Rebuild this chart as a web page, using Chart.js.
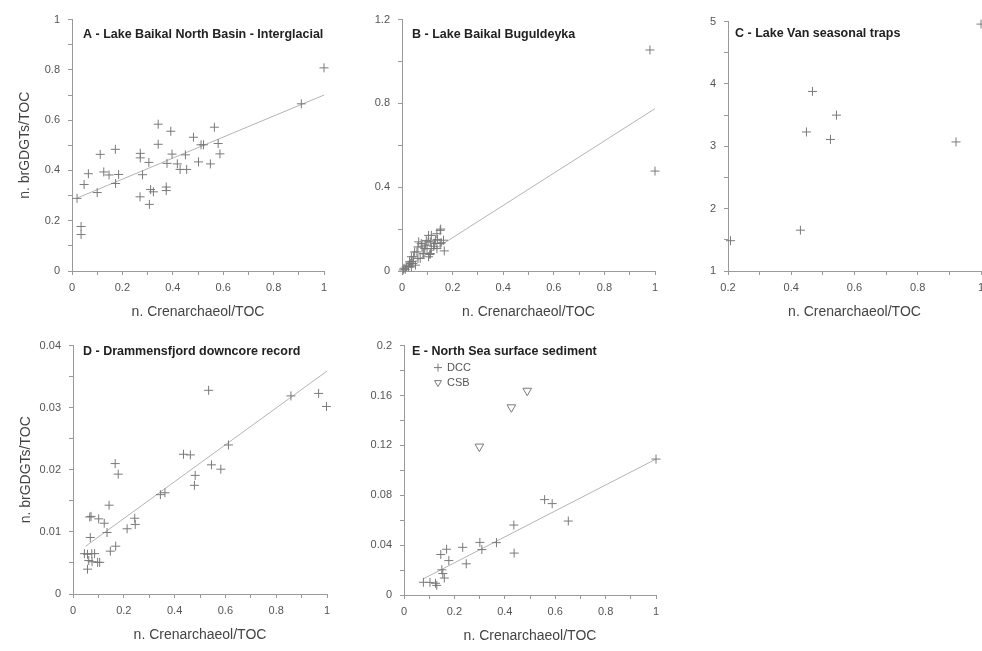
<!DOCTYPE html>
<html>
<head>
<meta charset="utf-8">
<script src="https://cdn.jsdelivr.net/npm/chart.js@4.4.1/dist/chart.umd.min.js"></script>
<style>
  html, body { margin: 0; padding: 0; background: #fff; overflow: hidden; }
  body { width: 982px; height: 651px; position: relative; }
  canvas { position: absolute; }
</style>
</head>
<body>
<canvas id="cA"></canvas>
<canvas id="cB"></canvas>
<canvas id="cC"></canvas>
<canvas id="cD"></canvas>
<canvas id="cE"></canvas>
<script>
// ---- data ----
const xTitle = 'n. Crenarchaeol/TOC';
const yTitle = 'n. brGDGTs/TOC';

// A - Lake Baikal North Basin - Interglacial
const aX = [0.02, 0.036, 0.036, 0.048, 0.065, 0.10, 0.112, 0.126, 0.147, 0.172, 0.173, 0.185, 0.271, 0.271, 0.27, 0.28, 0.305, 0.307, 0.312, 0.323, 0.342, 0.342, 0.374, 0.374, 0.377, 0.392, 0.397, 0.418, 0.429, 0.45, 0.455, 0.482, 0.502, 0.512, 0.522, 0.549, 0.565, 0.58, 0.587, 0.91, 1.0];
const aY = [0.289, 0.177, 0.145, 0.344, 0.387, 0.312, 0.464, 0.394, 0.382, 0.484, 0.348, 0.384, 0.468, 0.45, 0.295, 0.383, 0.432, 0.265, 0.324, 0.315, 0.584, 0.504, 0.334, 0.32, 0.428, 0.556, 0.465, 0.426, 0.404, 0.462, 0.404, 0.532, 0.434, 0.502, 0.502, 0.426, 0.572, 0.507, 0.466, 0.665, 0.808];
const fitA = [[0.02, 0.29], [1, 0.70]];

// B - Lake Baikal Buguldeyka
const bX = [0.005, 0.008, 0.013, 0.017, 0.024, 0.026, 0.03, 0.033, 0.037, 0.037, 0.04, 0.043, 0.046, 0.05, 0.053, 0.059, 0.063, 0.063, 0.066, 0.072, 0.076, 0.079, 0.083, 0.086, 0.09, 0.092, 0.096, 0.099, 0.103, 0.105, 0.105, 0.11, 0.112, 0.112, 0.116, 0.116, 0.125, 0.129, 0.132, 0.138, 0.138, 0.14, 0.151, 0.151, 0.153, 0.155, 0.164, 0.167, 0.98, 1.0];
const bY = [0.005, 0.013, 0.008, 0.02, 0.028, 0.02, 0.044, 0.036, 0.068, 0.02, 0.045, 0.036, 0.068, 0.091, 0.028, 0.091, 0.115, 0.06, 0.139, 0.06, 0.131, 0.115, 0.083, 0.083, 0.107, 0.123, 0.146, 0.107, 0.139, 0.17, 0.068, 0.079, 0.139, 0.083, 0.17, 0.107, 0.118, 0.131, 0.147, 0.178, 0.107, 0.151, 0.194, 0.131, 0.2, 0.135, 0.147, 0.096, 1.055, 0.477];
const fitB = [[0, 0.005], [1, 0.775]];

// C - Lake Van seasonal traps
const cX = [0.208, 0.429, 0.448, 0.467, 0.524, 0.543, 0.921, 1.0];
const cY = [1.486, 1.655, 3.23, 3.88, 3.11, 3.5, 3.07, 4.96];

// D - Drammensfjord downcore record
const dX = [0.057, 0.062, 0.075, 0.097, 0.105, 0.045, 0.057, 0.074, 0.085, 0.068, 0.066, 0.071, 0.101, 0.123, 0.134, 0.142, 0.147, 0.168, 0.166, 0.178, 0.213, 0.243, 0.245, 0.344, 0.362, 0.435, 0.462, 0.478, 0.481, 0.534, 0.545, 0.582, 0.612, 0.858, 0.967, 0.998];
const dY = [0.004, 0.0054, 0.0052, 0.0051, 0.0051, 0.0065, 0.0064, 0.0065, 0.0065, 0.0091, 0.0124, 0.0125, 0.0121, 0.0114, 0.0099, 0.0143, 0.0069, 0.0077, 0.021, 0.0193, 0.0105, 0.0122, 0.0112, 0.016, 0.0163, 0.0225, 0.0224, 0.0175, 0.0191, 0.0328, 0.0208, 0.0201, 0.024, 0.0319, 0.0323, 0.0302];
const fitD = [[0.05, 0.0077], [1, 0.0359]];

// E - North Sea surface sediment
const eDccX = [0.077, 0.103, 0.125, 0.13, 0.146, 0.15, 0.154, 0.16, 0.169, 0.178, 0.233, 0.247, 0.301, 0.309, 0.367, 0.436, 0.437, 0.558, 0.588, 0.652, 1.0];
const eDccY = [0.0102, 0.0101, 0.0094, 0.0077, 0.0325, 0.0202, 0.0172, 0.0136, 0.0367, 0.0276, 0.0382, 0.025, 0.0422, 0.0364, 0.042, 0.0561, 0.0336, 0.0765, 0.0733, 0.0593, 0.109];
const eCsbX = [0.299, 0.426, 0.489];
const eCsbY = [0.119, 0.1505, 0.1638];
const fitE = [[0.075, 0.0128], [1, 0.109]];

// axis ranges and labelled (major) ticks
const xMajor01 = [0, 0.2, 0.4, 0.6, 0.8, 1];
const xMajorC = [0.2, 0.4, 0.6, 0.8, 1];
const yMajorA = [0, 0.2, 0.4, 0.6, 0.8, 1];
const yMajorB = [0, 0.4, 0.8, 1.2];
const yMajorC = [1, 2, 3, 4, 5];
const yMajorD = [0, 0.01, 0.02, 0.03, 0.04];
const yMajorE = [0, 0.04, 0.08, 0.12, 0.16, 0.2];

// ---- drawing ----
Chart.defaults.font.family = '"Liberation Sans", Arial, sans-serif';
Chart.defaults.color = '#555';

const AXIS = '#9a9a9a';
const MARK = '#7a7a7a';
const Y_W = 64, X_H = 52, PAD_T = 12, PAD_R = 30;

function pts(xs, ys) { return xs.map((x, i) => ({ x: x, y: ys[i] })); }

function crosses(label, xs, ys) {
  return { label: label, data: pts(xs, ys), pointStyle: 'cross', pointRadius: 4.5,
    borderColor: MARK, borderWidth: 1, clip: false };
}
function fitLine(f) {
  return { type: 'line', data: f.map(p => ({ x: p[0], y: p[1] })), borderColor: '#b4b4b4',
    borderWidth: 1, pointRadius: 0, showLine: true, fill: false, clip: false };
}

function axis(min, max, step, majors, title, isX) {
  return {
    type: 'linear', min: min, max: max,
    afterFit: s => { if (isX) s.height = X_H; else s.width = Y_W; },
    border: { display: true, color: AXIS, width: 1 },
    grid: { drawOnChartArea: false, drawTicks: true, tickLength: 4, color: AXIS },
    ticks: {
      stepSize: step, autoSkip: false, maxRotation: 0, padding: isX ? 6 : 8,
      font: { size: 11 }, color: '#555',
      callback: v => {
        const m = majors.find(t => Math.abs(t - v) < step / 10);
        return m === undefined ? '' : String(m);
      }
    },
    title: title ? { display: true, text: title, font: { size: 14 }, color: '#444',
      padding: isX ? { top: 4, bottom: 2 } : { top: 9, bottom: 0 } } : { display: false }
  };
}

// panel letter title, and the small legend of panel E, drawn inside the plot
const panelTitle = {
  id: 'panelTitle',
  afterDraw(chart, args, o) {
    const c = chart.ctx, a = chart.chartArea;
    c.save();
    c.font = 'bold 12.5px "Liberation Sans", Arial, sans-serif';
    c.fillStyle = '#222';
    c.textBaseline = 'middle';
    c.fillText(o.text, a.left + o.dx, a.top + o.dy);
    if (o.legendTop) {
      c.font = '11px "Liberation Sans", Arial, sans-serif';
      chart.data.datasets.forEach((ds, i) => {
        if (!ds.label || ds.type === 'line') return;
        const y = a.top + o.legendTop + i * 15;
        c.strokeStyle = MARK;
        c.fillStyle = '#fff';
        c.lineWidth = 1;
        Chart.helpers.drawPoint(c, { pointStyle: ds.pointStyle, rotation: ds.rotation || 0,
          radius: 4, borderWidth: 1 }, a.left + 34, y);
        c.fillStyle = '#555';
        c.fillText(ds.label, a.left + 43, y);
      });
    }
    c.restore();
  }
};

function panel(id, rect, datasets, xs, ys, titleOpt) {
  const cv = document.getElementById(id);
  const [L, T, R, B] = rect;
  cv.width = R - L + Y_W + PAD_R;
  cv.height = B - T + PAD_T + X_H;
  cv.style.left = (L - Y_W) + 'px';
  cv.style.top = (T - PAD_T) + 'px';
  return new Chart(cv, {
    type: 'scatter',
    data: { datasets: datasets },
    options: {
      responsive: false, animation: false,
      layout: { padding: { top: PAD_T, right: PAD_R, left: 0, bottom: 0 } },
      plugins: { legend: { display: false }, tooltip: { enabled: false }, panelTitle: titleOpt },
      scales: { x: xs, y: ys }
    },
    plugins: [panelTitle]
  });
}

panel('cA', [72, 17, 324, 271],
  [crosses('', aX, aY), fitLine(fitA)],
  axis(0, 1, 0.1, xMajor01, xTitle, true),
  axis(0, 1, 0.1, yMajorA, yTitle, false),
  { text: 'A - Lake Baikal North Basin - Interglacial', dx: 11, dy: 15 });

panel('cB', [402, 17, 655, 271],
  [crosses('', bX, bY), fitLine(fitB)],
  axis(0, 1, 0.1, xMajor01, xTitle, true),
  axis(0, 1.2, 0.2, yMajorB, null, false),
  { text: 'B - Lake Baikal Buguldeyka', dx: 10, dy: 15 });

panel('cC', [728, 19, 981, 271],
  [crosses('', cX, cY)],
  axis(0.2, 1, 0.1, xMajorC, xTitle, true),
  axis(1, 5, 0.5, yMajorC, null, false),
  { text: 'C - Lake Van seasonal traps', dx: 7, dy: 12 });

panel('cD', [73, 343, 327, 594],
  [crosses('', dX, dY), fitLine(fitD)],
  axis(0, 1, 0.1, xMajor01, xTitle, true),
  axis(0, 0.04, 0.005, yMajorD, yTitle, false),
  { text: 'D - Drammensfjord downcore record', dx: 10, dy: 6 });

panel('cE', [404, 343, 656, 595],
  [crosses('DCC', eDccX, eDccY),
   { label: 'CSB', data: pts(eCsbX, eCsbY), pointStyle: 'triangle', rotation: 180, pointRadius: 5,
     borderColor: MARK, backgroundColor: '#fff', borderWidth: 1, clip: false },
   fitLine(fitE)],
  axis(0, 1, 0.1, xMajor01, xTitle, true),
  axis(0, 0.2, 0.02, yMajorE, null, false),
  { text: 'E - North Sea surface sediment', dx: 8, dy: 6, legendTop: 22 });
</script>
</body>
</html>
